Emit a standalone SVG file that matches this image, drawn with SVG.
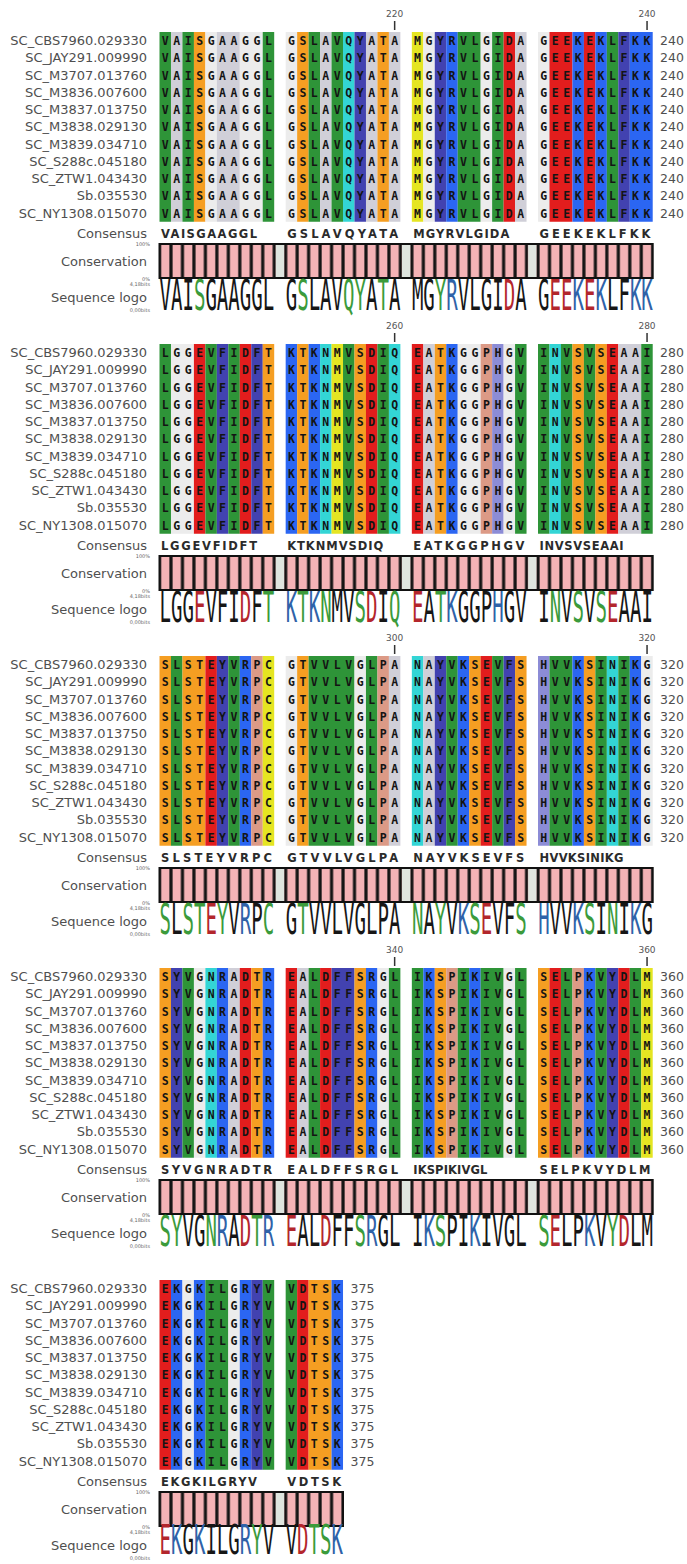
<svg xmlns="http://www.w3.org/2000/svg" width="687" height="1564" viewBox="0 0 687 1564">
<style>
.lbl{font-family:"DejaVu Sans",sans-serif;font-size:13px;fill:#4f4f4f;text-anchor:end}
.num{font-family:"DejaVu Sans",sans-serif;font-size:12.5px;fill:#4f4f4f}
.seq{font-family:"DejaVu Sans Mono",monospace;font-weight:bold;font-size:11.5px;letter-spacing:4.546px;fill:#141414}
.cons{font-family:"DejaVu Sans",sans-serif;font-weight:bold;font-size:11.5px;fill:#2b2b2b}
.tiny{font-family:"DejaVu Sans",sans-serif;font-size:5px;fill:#666;text-anchor:end}
.rul{font-family:"DejaVu Sans",sans-serif;font-size:9px;fill:#555;text-anchor:middle}
.tk{fill:#333}
.logo{font-family:"DejaVu Sans Mono",monospace;font-size:42px;fill:#161616}
.logo5{font-family:"DejaVu Sans Mono",monospace;font-size:40px;fill:#161616}
.P{fill:#3b9b3b}.B{fill:#2f62a8}.D{fill:#b3262c}
.hv{fill:#2e9438}.al{fill:#d0cfd8}.gl{fill:#ececec}.st{fill:#f59e22}.nq{fill:#33d5d5}.fy{fill:#4242b0}.mc{fill:#e5e522}.kr{fill:#2b66f2}.de{fill:#e21d1d}.hh{fill:#8c8cd6}.pp{fill:#dc9a86}
.box{fill:url(#cons);stroke:#111;stroke-width:2}
.gap{fill:#dfe5df}
</style>
<defs>
<pattern id="cons" patternUnits="userSpaceOnUse" x="159.5" y="0" width="11.47" height="2000">
<rect width="11.47" height="2000" fill="#141414"/>
<rect x="1.6" width="8.3" height="2000" fill="#f4b3b6"/>
</pattern>
</defs>

<g id="block1">
<text class="rul" x="394.6" y="17">220</text><rect class="tk" x="393.9" y="21" width="1.5" height="9"/>
<text class="rul" x="647" y="17">240</text><rect class="tk" x="646.3" y="21" width="1.5" height="9"/>
<g transform="translate(0,32) scale(1,189.75)">
<rect class="hv" x="159.5" width="11.5" height="1"/><rect class="al" x="170.97" width="11.5" height="1"/><rect class="hv" x="182.44" width="11.5" height="1"/><rect class="st" x="193.91" width="11.5" height="1"/><rect class="gl" x="205.38" width="11.5" height="1"/><rect class="al" x="216.85" width="22.97" height="1"/><rect class="gl" x="239.79" width="22.97" height="1"/><rect class="hv" x="262.73" width="11.47" height="1"/>
<rect class="gl" x="285.67" width="11.5" height="1"/><rect class="st" x="297.14" width="11.5" height="1"/><rect class="hv" x="308.61" width="11.5" height="1"/><rect class="al" x="320.08" width="11.5" height="1"/><rect class="hv" x="331.55" width="11.5" height="1"/><rect class="nq" x="343.02" width="11.5" height="1"/><rect class="fy" x="354.49" width="11.5" height="1"/><rect class="al" x="365.96" width="11.5" height="1"/><rect class="st" x="377.43" width="11.5" height="1"/><rect class="al" x="388.9" width="11.47" height="1"/>
<rect class="mc" x="411.84" width="11.5" height="1"/><rect class="gl" x="423.31" width="11.5" height="1"/><rect class="fy" x="434.78" width="11.5" height="1"/><rect class="kr" x="446.25" width="11.5" height="1"/><rect class="hv" x="457.72" width="22.97" height="1"/><rect class="gl" x="480.66" width="11.5" height="1"/><rect class="hv" x="492.13" width="11.5" height="1"/><rect class="de" x="503.6" width="11.5" height="1"/><rect class="al" x="515.07" width="11.47" height="1"/>
<rect class="gl" x="538.01" width="11.5" height="1"/><rect class="de" x="549.48" width="22.97" height="1"/><rect class="kr" x="572.42" width="11.5" height="1"/><rect class="de" x="583.89" width="11.5" height="1"/><rect class="kr" x="595.36" width="11.5" height="1"/><rect class="hv" x="606.83" width="11.5" height="1"/><rect class="fy" x="618.3" width="11.5" height="1"/><rect class="kr" x="629.77" width="22.94" height="1"/>
</g>
<text class="lbl" x="147" y="45">SC_CBS7960.029330</text>
<text class="lbl" x="147" y="62.25">SC_JAY291.009990</text>
<text class="lbl" x="147" y="79.5">SC_M3707.013760</text>
<text class="lbl" x="147" y="96.75">SC_M3836.007600</text>
<text class="lbl" x="147" y="114">SC_M3837.013750</text>
<text class="lbl" x="147" y="131.25">SC_M3838.029130</text>
<text class="lbl" x="147" y="148.5">SC_M3839.034710</text>
<text class="lbl" x="147" y="165.75">SC_S288c.045180</text>
<text class="lbl" x="147" y="183">SC_ZTW1.043430</text>
<text class="lbl" x="147" y="200.25">Sb.035530</text>
<text class="lbl" x="147" y="217.5">SC_NY1308.015070</text>
<text class="seq" x="161.77" y="45">VAISGAAGGL GSLAVQYATA MGYRVLGIDA GEEKEKLFKK</text>
<text class="seq" x="161.77" y="62.25">VAISGAAGGL GSLAVQYATA MGYRVLGIDA GEEKEKLFKK</text>
<text class="seq" x="161.77" y="79.5">VAISGAAGGL GSLAVQYATA MGYRVLGIDA GEEKEKLFKK</text>
<text class="seq" x="161.77" y="96.75">VAISGAAGGL GSLAVQYATA MGYRVLGIDA GEEKEKLFKK</text>
<text class="seq" x="161.77" y="114">VAISGAAGGL GSLAVQYATA MGYRVLGIDA GEEKEKLFKK</text>
<text class="seq" x="161.77" y="131.25">VAISGAAGGL GSLAVQYATA MGYRVLGIDA GEEKEKLFKK</text>
<text class="seq" x="161.77" y="148.5">VAISGAAGGL GSLAVQYATA MGYRVLGIDA GEEKEKLFKK</text>
<text class="seq" x="161.77" y="165.75">VAISGAAGGL GSLAVQYATA MGYRVLGIDA GEEKEKLFKK</text>
<text class="seq" x="161.77" y="183">VAISGAAGGL GSLAVQYATA MGYRVLGIDA GEEKEKLFKK</text>
<text class="seq" x="161.77" y="200.25">VAISGAAGGL GSLAVQYATA MGYRVLGIDA GEEKEKLFKK</text>
<text class="seq" x="161.77" y="217.5">VAISGAAGGL GSLAVQYATA MGYRVLGIDA GEEKEKLFKK</text>
<text class="num" x="660" y="45">240</text><text class="num" x="660" y="62.25">240</text><text class="num" x="660" y="79.5">240</text><text class="num" x="660" y="96.75">240</text><text class="num" x="660" y="114">240</text><text class="num" x="660" y="131.25">240</text><text class="num" x="660" y="148.5">240</text><text class="num" x="660" y="165.75">240</text><text class="num" x="660" y="183">240</text><text class="num" x="660" y="200.25">240</text><text class="num" x="660" y="217.5">240</text>
<text class="lbl" x="147" y="238">Consensus</text>
<text class="cons" x="161" y="238" textLength="96" lengthAdjust="spacing">VAISGAAGGL</text>
<text class="cons" x="287.2" y="238" textLength="111" lengthAdjust="spacing">GSLAVQYATA</text>
<text class="cons" x="413.3" y="238" textLength="96" lengthAdjust="spacing">MGYRVLGIDA</text>
<text class="cons" x="539.5" y="238" textLength="111" lengthAdjust="spacing">GEEKEKLFKK</text>
<text class="tiny" x="150" y="246">100%</text>
<text class="lbl" x="147" y="265.5">Conservation</text>
<rect class="box" x="159.5" y="244" width="493.2" height="34"/>
<rect class="gap" x="275.8" y="245" width="8.3" height="32"/><rect class="gap" x="401.97" y="245" width="8.3" height="32"/><rect class="gap" x="528.14" y="245" width="8.3" height="32"/>
<text class="tiny" x="150" y="281">0%</text>
<text class="tiny" x="150" y="285.5">4,18bits</text>
<text class="lbl" x="147" y="302">Sequence logo</text>
<text class="tiny" x="150" y="312">0,00bits</text>
<g transform="translate(159.5,310) scale(0.4537,1)"><text class="logo" x="0" y="0">VAI<tspan class="P">S</tspan>GAAGGL G<tspan class="P">S</tspan>LAV<tspan class="P">QY</tspan>A<tspan class="P">T</tspan>A MG<tspan class="P">Y</tspan><tspan class="B">R</tspan>VLGI<tspan class="D">D</tspan>A G<tspan class="D">EE</tspan><tspan class="B">K</tspan><tspan class="D">E</tspan><tspan class="B">K</tspan>LF<tspan class="B">KK</tspan></text></g>
</g>

<g id="block2" transform="translate(0,312)">
<text class="rul" x="394.6" y="17">260</text><rect class="tk" x="393.9" y="21" width="1.5" height="9"/>
<text class="rul" x="647" y="17">280</text><rect class="tk" x="646.3" y="21" width="1.5" height="9"/>
<g transform="translate(0,32) scale(1,189.75)">
<rect class="hv" x="159.5" width="11.5" height="1"/><rect class="gl" x="170.97" width="22.97" height="1"/><rect class="de" x="193.91" width="11.5" height="1"/><rect class="hv" x="205.38" width="11.5" height="1"/><rect class="fy" x="216.85" width="11.5" height="1"/><rect class="hv" x="228.32" width="11.5" height="1"/><rect class="de" x="239.79" width="11.5" height="1"/><rect class="fy" x="251.26" width="11.5" height="1"/><rect class="st" x="262.73" width="11.47" height="1"/>
<rect class="kr" x="285.67" width="11.5" height="1"/><rect class="st" x="297.14" width="11.5" height="1"/><rect class="kr" x="308.61" width="11.5" height="1"/><rect class="nq" x="320.08" width="11.5" height="1"/><rect class="mc" x="331.55" width="11.5" height="1"/><rect class="hv" x="343.02" width="11.5" height="1"/><rect class="st" x="354.49" width="11.5" height="1"/><rect class="de" x="365.96" width="11.5" height="1"/><rect class="hv" x="377.43" width="11.5" height="1"/><rect class="nq" x="388.9" width="11.47" height="1"/>
<rect class="de" x="411.84" width="11.5" height="1"/><rect class="al" x="423.31" width="11.5" height="1"/><rect class="st" x="434.78" width="11.5" height="1"/><rect class="kr" x="446.25" width="11.5" height="1"/><rect class="gl" x="457.72" width="22.97" height="1"/><rect class="pp" x="480.66" width="11.5" height="1"/><rect class="hh" x="492.13" width="11.5" height="1"/><rect class="gl" x="503.6" width="11.5" height="1"/><rect class="hv" x="515.07" width="11.47" height="1"/>
<rect class="hv" x="538.01" width="11.5" height="1"/><rect class="nq" x="549.48" width="11.5" height="1"/><rect class="hv" x="560.95" width="11.5" height="1"/><rect class="st" x="572.42" width="11.5" height="1"/><rect class="hv" x="583.89" width="11.5" height="1"/><rect class="st" x="595.36" width="11.5" height="1"/><rect class="de" x="606.83" width="11.5" height="1"/><rect class="al" x="618.3" width="22.97" height="1"/><rect class="hv" x="641.24" width="11.47" height="1"/>
</g>
<text class="lbl" x="147" y="45">SC_CBS7960.029330</text>
<text class="lbl" x="147" y="62.25">SC_JAY291.009990</text>
<text class="lbl" x="147" y="79.5">SC_M3707.013760</text>
<text class="lbl" x="147" y="96.75">SC_M3836.007600</text>
<text class="lbl" x="147" y="114">SC_M3837.013750</text>
<text class="lbl" x="147" y="131.25">SC_M3838.029130</text>
<text class="lbl" x="147" y="148.5">SC_M3839.034710</text>
<text class="lbl" x="147" y="165.75">SC_S288c.045180</text>
<text class="lbl" x="147" y="183">SC_ZTW1.043430</text>
<text class="lbl" x="147" y="200.25">Sb.035530</text>
<text class="lbl" x="147" y="217.5">SC_NY1308.015070</text>
<text class="seq" x="161.77" y="45">LGGEVFIDFT KTKNMVSDIQ EATKGGPHGV INVSVSEAAI</text>
<text class="seq" x="161.77" y="62.25">LGGEVFIDFT KTKNMVSDIQ EATKGGPHGV INVSVSEAAI</text>
<text class="seq" x="161.77" y="79.5">LGGEVFIDFT KTKNMVSDIQ EATKGGPHGV INVSVSEAAI</text>
<text class="seq" x="161.77" y="96.75">LGGEVFIDFT KTKNMVSDIQ EATKGGPHGV INVSVSEAAI</text>
<text class="seq" x="161.77" y="114">LGGEVFIDFT KTKNMVSDIQ EATKGGPHGV INVSVSEAAI</text>
<text class="seq" x="161.77" y="131.25">LGGEVFIDFT KTKNMVSDIQ EATKGGPHGV INVSVSEAAI</text>
<text class="seq" x="161.77" y="148.5">LGGEVFIDFT KTKNMVSDIQ EATKGGPHGV INVSVSEAAI</text>
<text class="seq" x="161.77" y="165.75">LGGEVFIDFT KTKNMVSDIQ EATKGGPHGV INVSVSEAAI</text>
<text class="seq" x="161.77" y="183">LGGEVFIDFT KTKNMVSDIQ EATKGGPHGV INVSVSEAAI</text>
<text class="seq" x="161.77" y="200.25">LGGEVFIDFT KTKNMVSDIQ EATKGGPHGV INVSVSEAAI</text>
<text class="seq" x="161.77" y="217.5">LGGEVFIDFT KTKNMVSDIQ EATKGGPHGV INVSVSEAAI</text>
<text class="num" x="660" y="45">280</text><text class="num" x="660" y="62.25">280</text><text class="num" x="660" y="79.5">280</text><text class="num" x="660" y="96.75">280</text><text class="num" x="660" y="114">280</text><text class="num" x="660" y="131.25">280</text><text class="num" x="660" y="148.5">280</text><text class="num" x="660" y="165.75">280</text><text class="num" x="660" y="183">280</text><text class="num" x="660" y="200.25">280</text><text class="num" x="660" y="217.5">280</text>
<text class="lbl" x="147" y="238">Consensus</text>
<text class="cons" x="161" y="238" textLength="96" lengthAdjust="spacing">LGGEVFIDFT</text>
<text class="cons" x="287.2" y="238" textLength="96" lengthAdjust="spacing">KTKNMVSDIQ</text>
<text class="cons" x="413.3" y="238" textLength="111" lengthAdjust="spacing">EATKGGPHGV</text>
<text class="cons" x="539.5" y="238" textLength="84" lengthAdjust="spacing">INVSVSEAAI</text>
<text class="tiny" x="150" y="246">100%</text>
<text class="lbl" x="147" y="265.5">Conservation</text>
<rect class="box" x="159.5" y="244" width="493.2" height="34"/>
<rect class="gap" x="275.8" y="245" width="8.3" height="32"/><rect class="gap" x="401.97" y="245" width="8.3" height="32"/><rect class="gap" x="528.14" y="245" width="8.3" height="32"/>
<text class="tiny" x="150" y="281">0%</text>
<text class="tiny" x="150" y="285.5">4,18bits</text>
<text class="lbl" x="147" y="302">Sequence logo</text>
<text class="tiny" x="150" y="312">0,00bits</text>
<g transform="translate(159.5,310) scale(0.4537,1)"><text class="logo" x="0" y="0">LGG<tspan class="D">E</tspan>VFI<tspan class="D">D</tspan>F<tspan class="P">T</tspan> <tspan class="B">K</tspan><tspan class="P">T</tspan><tspan class="B">K</tspan><tspan class="P">N</tspan>MV<tspan class="P">S</tspan><tspan class="D">D</tspan>I<tspan class="P">Q</tspan> <tspan class="D">E</tspan>A<tspan class="P">T</tspan><tspan class="B">K</tspan>GGP<tspan class="B">H</tspan>GV I<tspan class="P">N</tspan>V<tspan class="P">S</tspan>V<tspan class="P">S</tspan><tspan class="D">E</tspan>AAI</text></g>
</g>

<g id="block3" transform="translate(0,624)">
<text class="rul" x="394.6" y="17">300</text><rect class="tk" x="393.9" y="21" width="1.5" height="9"/>
<text class="rul" x="647" y="17">320</text><rect class="tk" x="646.3" y="21" width="1.5" height="9"/>
<g transform="translate(0,32) scale(1,189.75)">
<rect class="st" x="159.5" width="11.5" height="1"/><rect class="hv" x="170.97" width="11.5" height="1"/><rect class="st" x="182.44" width="22.97" height="1"/><rect class="de" x="205.38" width="11.5" height="1"/><rect class="fy" x="216.85" width="11.5" height="1"/><rect class="hv" x="228.32" width="11.5" height="1"/><rect class="kr" x="239.79" width="11.5" height="1"/><rect class="pp" x="251.26" width="11.5" height="1"/><rect class="mc" x="262.73" width="11.47" height="1"/>
<rect class="gl" x="285.67" width="11.5" height="1"/><rect class="st" x="297.14" width="11.5" height="1"/><rect class="hv" x="308.61" width="45.91" height="1"/><rect class="gl" x="354.49" width="11.5" height="1"/><rect class="hv" x="365.96" width="11.5" height="1"/><rect class="pp" x="377.43" width="11.5" height="1"/><rect class="al" x="388.9" width="11.47" height="1"/>
<rect class="nq" x="411.84" width="11.5" height="1"/><rect class="al" x="423.31" width="11.5" height="1"/><rect class="fy" x="434.78" width="11.5" height="1"/><rect class="hv" x="446.25" width="11.5" height="1"/><rect class="kr" x="457.72" width="11.5" height="1"/><rect class="st" x="469.19" width="11.5" height="1"/><rect class="de" x="480.66" width="11.5" height="1"/><rect class="hv" x="492.13" width="11.5" height="1"/><rect class="fy" x="503.6" width="11.5" height="1"/><rect class="st" x="515.07" width="11.47" height="1"/>
<rect class="hh" x="538.01" width="11.5" height="1"/><rect class="hv" x="549.48" width="22.97" height="1"/><rect class="kr" x="572.42" width="11.5" height="1"/><rect class="st" x="583.89" width="11.5" height="1"/><rect class="hv" x="595.36" width="11.5" height="1"/><rect class="nq" x="606.83" width="11.5" height="1"/><rect class="hv" x="618.3" width="11.5" height="1"/><rect class="kr" x="629.77" width="11.5" height="1"/><rect class="gl" x="641.24" width="11.47" height="1"/>
</g>
<text class="lbl" x="147" y="45">SC_CBS7960.029330</text>
<text class="lbl" x="147" y="62.25">SC_JAY291.009990</text>
<text class="lbl" x="147" y="79.5">SC_M3707.013760</text>
<text class="lbl" x="147" y="96.75">SC_M3836.007600</text>
<text class="lbl" x="147" y="114">SC_M3837.013750</text>
<text class="lbl" x="147" y="131.25">SC_M3838.029130</text>
<text class="lbl" x="147" y="148.5">SC_M3839.034710</text>
<text class="lbl" x="147" y="165.75">SC_S288c.045180</text>
<text class="lbl" x="147" y="183">SC_ZTW1.043430</text>
<text class="lbl" x="147" y="200.25">Sb.035530</text>
<text class="lbl" x="147" y="217.5">SC_NY1308.015070</text>
<text class="seq" x="161.77" y="45">SLSTEYVRPC GTVVLVGLPA NAYVKSEVFS HVVKSINIKG</text>
<text class="seq" x="161.77" y="62.25">SLSTEYVRPC GTVVLVGLPA NAYVKSEVFS HVVKSINIKG</text>
<text class="seq" x="161.77" y="79.5">SLSTEYVRPC GTVVLVGLPA NAYVKSEVFS HVVKSINIKG</text>
<text class="seq" x="161.77" y="96.75">SLSTEYVRPC GTVVLVGLPA NAYVKSEVFS HVVKSINIKG</text>
<text class="seq" x="161.77" y="114">SLSTEYVRPC GTVVLVGLPA NAYVKSEVFS HVVKSINIKG</text>
<text class="seq" x="161.77" y="131.25">SLSTEYVRPC GTVVLVGLPA NAYVKSEVFS HVVKSINIKG</text>
<text class="seq" x="161.77" y="148.5">SLSTEYVRPC GTVVLVGLPA NAYVKSEVFS HVVKSINIKG</text>
<text class="seq" x="161.77" y="165.75">SLSTEYVRPC GTVVLVGLPA NAYVKSEVFS HVVKSINIKG</text>
<text class="seq" x="161.77" y="183">SLSTEYVRPC GTVVLVGLPA NAYVKSEVFS HVVKSINIKG</text>
<text class="seq" x="161.77" y="200.25">SLSTEYVRPC GTVVLVGLPA NAYVKSEVFS HVVKSINIKG</text>
<text class="seq" x="161.77" y="217.5">SLSTEYVRPC GTVVLVGLPA NAYVKSEVFS HVVKSINIKG</text>
<text class="num" x="660" y="45">320</text><text class="num" x="660" y="62.25">320</text><text class="num" x="660" y="79.5">320</text><text class="num" x="660" y="96.75">320</text><text class="num" x="660" y="114">320</text><text class="num" x="660" y="131.25">320</text><text class="num" x="660" y="148.5">320</text><text class="num" x="660" y="165.75">320</text><text class="num" x="660" y="183">320</text><text class="num" x="660" y="200.25">320</text><text class="num" x="660" y="217.5">320</text>
<text class="lbl" x="147" y="238">Consensus</text>
<text class="cons" x="161" y="238" textLength="111" lengthAdjust="spacing">SLSTEYVRPC</text>
<text class="cons" x="287.2" y="238" textLength="111" lengthAdjust="spacing">GTVVLVGLPA</text>
<text class="cons" x="413.3" y="238" textLength="111" lengthAdjust="spacing">NAYVKSEVFS</text>
<text class="cons" x="539.5" y="238" textLength="84" lengthAdjust="spacing">HVVKSINIKG</text>
<text class="tiny" x="150" y="246">100%</text>
<text class="lbl" x="147" y="265.5">Conservation</text>
<rect class="box" x="159.5" y="244" width="493.2" height="34"/>
<rect class="gap" x="275.8" y="245" width="8.3" height="32"/><rect class="gap" x="401.97" y="245" width="8.3" height="32"/><rect class="gap" x="528.14" y="245" width="8.3" height="32"/>
<text class="tiny" x="150" y="281">0%</text>
<text class="tiny" x="150" y="285.5">4,18bits</text>
<text class="lbl" x="147" y="302">Sequence logo</text>
<text class="tiny" x="150" y="312">0,00bits</text>
<g transform="translate(159.5,310) scale(0.4537,1)"><text class="logo" x="0" y="0"><tspan class="P">S</tspan>L<tspan class="P">ST</tspan><tspan class="D">E</tspan><tspan class="P">Y</tspan>V<tspan class="B">R</tspan>P<tspan class="P">C</tspan> G<tspan class="P">T</tspan>VVLVGLPA <tspan class="P">N</tspan>A<tspan class="P">Y</tspan>V<tspan class="B">K</tspan><tspan class="P">S</tspan><tspan class="D">E</tspan>VF<tspan class="P">S</tspan> <tspan class="B">H</tspan>VV<tspan class="B">K</tspan><tspan class="P">S</tspan>I<tspan class="P">N</tspan>I<tspan class="B">K</tspan>G</text></g>
</g>

<g id="block4" transform="translate(0,936)">
<text class="rul" x="394.6" y="17">340</text><rect class="tk" x="393.9" y="21" width="1.5" height="9"/>
<text class="rul" x="647" y="17">360</text><rect class="tk" x="646.3" y="21" width="1.5" height="9"/>
<g transform="translate(0,32) scale(1,189.75)">
<rect class="st" x="159.5" width="11.5" height="1"/><rect class="fy" x="170.97" width="11.5" height="1"/><rect class="hv" x="182.44" width="11.5" height="1"/><rect class="gl" x="193.91" width="11.5" height="1"/><rect class="nq" x="205.38" width="11.5" height="1"/><rect class="kr" x="216.85" width="11.5" height="1"/><rect class="al" x="228.32" width="11.5" height="1"/><rect class="de" x="239.79" width="11.5" height="1"/><rect class="st" x="251.26" width="11.5" height="1"/><rect class="kr" x="262.73" width="11.47" height="1"/>
<rect class="de" x="285.67" width="11.5" height="1"/><rect class="al" x="297.14" width="11.5" height="1"/><rect class="hv" x="308.61" width="11.5" height="1"/><rect class="de" x="320.08" width="11.5" height="1"/><rect class="fy" x="331.55" width="22.97" height="1"/><rect class="st" x="354.49" width="11.5" height="1"/><rect class="kr" x="365.96" width="11.5" height="1"/><rect class="gl" x="377.43" width="11.5" height="1"/><rect class="hv" x="388.9" width="11.47" height="1"/>
<rect class="hv" x="411.84" width="11.5" height="1"/><rect class="kr" x="423.31" width="11.5" height="1"/><rect class="st" x="434.78" width="11.5" height="1"/><rect class="pp" x="446.25" width="11.5" height="1"/><rect class="hv" x="457.72" width="11.5" height="1"/><rect class="kr" x="469.19" width="11.5" height="1"/><rect class="hv" x="480.66" width="22.97" height="1"/><rect class="gl" x="503.6" width="11.5" height="1"/><rect class="hv" x="515.07" width="11.47" height="1"/>
<rect class="st" x="538.01" width="11.5" height="1"/><rect class="de" x="549.48" width="11.5" height="1"/><rect class="hv" x="560.95" width="11.5" height="1"/><rect class="pp" x="572.42" width="11.5" height="1"/><rect class="kr" x="583.89" width="11.5" height="1"/><rect class="hv" x="595.36" width="11.5" height="1"/><rect class="fy" x="606.83" width="11.5" height="1"/><rect class="de" x="618.3" width="11.5" height="1"/><rect class="hv" x="629.77" width="11.5" height="1"/><rect class="mc" x="641.24" width="11.47" height="1"/>
</g>
<text class="lbl" x="147" y="45">SC_CBS7960.029330</text>
<text class="lbl" x="147" y="62.25">SC_JAY291.009990</text>
<text class="lbl" x="147" y="79.5">SC_M3707.013760</text>
<text class="lbl" x="147" y="96.75">SC_M3836.007600</text>
<text class="lbl" x="147" y="114">SC_M3837.013750</text>
<text class="lbl" x="147" y="131.25">SC_M3838.029130</text>
<text class="lbl" x="147" y="148.5">SC_M3839.034710</text>
<text class="lbl" x="147" y="165.75">SC_S288c.045180</text>
<text class="lbl" x="147" y="183">SC_ZTW1.043430</text>
<text class="lbl" x="147" y="200.25">Sb.035530</text>
<text class="lbl" x="147" y="217.5">SC_NY1308.015070</text>
<text class="seq" x="161.77" y="45">SYVGNRADTR EALDFFSRGL IKSPIKIVGL SELPKVYDLM</text>
<text class="seq" x="161.77" y="62.25">SYVGNRADTR EALDFFSRGL IKSPIKIVGL SELPKVYDLM</text>
<text class="seq" x="161.77" y="79.5">SYVGNRADTR EALDFFSRGL IKSPIKIVGL SELPKVYDLM</text>
<text class="seq" x="161.77" y="96.75">SYVGNRADTR EALDFFSRGL IKSPIKIVGL SELPKVYDLM</text>
<text class="seq" x="161.77" y="114">SYVGNRADTR EALDFFSRGL IKSPIKIVGL SELPKVYDLM</text>
<text class="seq" x="161.77" y="131.25">SYVGNRADTR EALDFFSRGL IKSPIKIVGL SELPKVYDLM</text>
<text class="seq" x="161.77" y="148.5">SYVGNRADTR EALDFFSRGL IKSPIKIVGL SELPKVYDLM</text>
<text class="seq" x="161.77" y="165.75">SYVGNRADTR EALDFFSRGL IKSPIKIVGL SELPKVYDLM</text>
<text class="seq" x="161.77" y="183">SYVGNRADTR EALDFFSRGL IKSPIKIVGL SELPKVYDLM</text>
<text class="seq" x="161.77" y="200.25">SYVGNRADTR EALDFFSRGL IKSPIKIVGL SELPKVYDLM</text>
<text class="seq" x="161.77" y="217.5">SYVGNRADTR EALDFFSRGL IKSPIKIVGL SELPKVYDLM</text>
<text class="num" x="660" y="45">360</text><text class="num" x="660" y="62.25">360</text><text class="num" x="660" y="79.5">360</text><text class="num" x="660" y="96.75">360</text><text class="num" x="660" y="114">360</text><text class="num" x="660" y="131.25">360</text><text class="num" x="660" y="148.5">360</text><text class="num" x="660" y="165.75">360</text><text class="num" x="660" y="183">360</text><text class="num" x="660" y="200.25">360</text><text class="num" x="660" y="217.5">360</text>
<text class="lbl" x="147" y="238">Consensus</text>
<text class="cons" x="161" y="238" textLength="111" lengthAdjust="spacing">SYVGNRADTR</text>
<text class="cons" x="287.2" y="238" textLength="111" lengthAdjust="spacing">EALDFFSRGL</text>
<text class="cons" x="413.3" y="238" textLength="74" lengthAdjust="spacing">IKSPIKIVGL</text>
<text class="cons" x="539.5" y="238" textLength="111" lengthAdjust="spacing">SELPKVYDLM</text>
<text class="tiny" x="150" y="246">100%</text>
<text class="lbl" x="147" y="265.5">Conservation</text>
<rect class="box" x="159.5" y="244" width="493.2" height="34"/>
<rect class="gap" x="275.8" y="245" width="8.3" height="32"/><rect class="gap" x="401.97" y="245" width="8.3" height="32"/><rect class="gap" x="528.14" y="245" width="8.3" height="32"/>
<text class="tiny" x="150" y="281">0%</text>
<text class="tiny" x="150" y="285.5">4,18bits</text>
<text class="lbl" x="147" y="302">Sequence logo</text>
<text class="tiny" x="150" y="312">0,00bits</text>
<g transform="translate(159.5,310) scale(0.4537,1)"><text class="logo" x="0" y="0"><tspan class="P">SY</tspan>VG<tspan class="P">N</tspan><tspan class="B">R</tspan>A<tspan class="D">D</tspan><tspan class="P">T</tspan><tspan class="B">R</tspan> <tspan class="D">E</tspan>AL<tspan class="D">D</tspan>FF<tspan class="P">S</tspan><tspan class="B">R</tspan>GL I<tspan class="B">K</tspan><tspan class="P">S</tspan>PI<tspan class="B">K</tspan>IVGL <tspan class="P">S</tspan><tspan class="D">E</tspan>LP<tspan class="B">K</tspan>V<tspan class="P">Y</tspan><tspan class="D">D</tspan>LM</text></g>
</g>

<g id="block5" transform="translate(0,1248)">
<g transform="translate(0,32) scale(1,189.75)">
<rect class="de" x="159.5" width="11.5" height="1"/><rect class="kr" x="170.97" width="11.5" height="1"/><rect class="gl" x="182.44" width="11.5" height="1"/><rect class="kr" x="193.91" width="11.5" height="1"/><rect class="hv" x="205.38" width="22.97" height="1"/><rect class="gl" x="228.32" width="11.5" height="1"/><rect class="kr" x="239.79" width="11.5" height="1"/><rect class="fy" x="251.26" width="11.5" height="1"/><rect class="hv" x="262.73" width="11.47" height="1"/>
<rect class="hv" x="285.67" width="11.5" height="1"/><rect class="de" x="297.14" width="11.5" height="1"/><rect class="st" x="308.61" width="22.97" height="1"/><rect class="kr" x="331.55" width="11.47" height="1"/>
</g>
<text class="lbl" x="147" y="45">SC_CBS7960.029330</text>
<text class="lbl" x="147" y="62.25">SC_JAY291.009990</text>
<text class="lbl" x="147" y="79.5">SC_M3707.013760</text>
<text class="lbl" x="147" y="96.75">SC_M3836.007600</text>
<text class="lbl" x="147" y="114">SC_M3837.013750</text>
<text class="lbl" x="147" y="131.25">SC_M3838.029130</text>
<text class="lbl" x="147" y="148.5">SC_M3839.034710</text>
<text class="lbl" x="147" y="165.75">SC_S288c.045180</text>
<text class="lbl" x="147" y="183">SC_ZTW1.043430</text>
<text class="lbl" x="147" y="200.25">Sb.035530</text>
<text class="lbl" x="147" y="217.5">SC_NY1308.015070</text>
<text class="seq" x="161.77" y="45">EKGKILGRYV VDTSK</text>
<text class="seq" x="161.77" y="62.25">EKGKILGRYV VDTSK</text>
<text class="seq" x="161.77" y="79.5">EKGKILGRYV VDTSK</text>
<text class="seq" x="161.77" y="96.75">EKGKILGRYV VDTSK</text>
<text class="seq" x="161.77" y="114">EKGKILGRYV VDTSK</text>
<text class="seq" x="161.77" y="131.25">EKGKILGRYV VDTSK</text>
<text class="seq" x="161.77" y="148.5">EKGKILGRYV VDTSK</text>
<text class="seq" x="161.77" y="165.75">EKGKILGRYV VDTSK</text>
<text class="seq" x="161.77" y="183">EKGKILGRYV VDTSK</text>
<text class="seq" x="161.77" y="200.25">EKGKILGRYV VDTSK</text>
<text class="seq" x="161.77" y="217.5">EKGKILGRYV VDTSK</text>
<text class="num" x="350.5" y="45">375</text><text class="num" x="350.5" y="62.25">375</text><text class="num" x="350.5" y="79.5">375</text><text class="num" x="350.5" y="96.75">375</text><text class="num" x="350.5" y="114">375</text><text class="num" x="350.5" y="131.25">375</text><text class="num" x="350.5" y="148.5">375</text><text class="num" x="350.5" y="165.75">375</text><text class="num" x="350.5" y="183">375</text><text class="num" x="350.5" y="200.25">375</text><text class="num" x="350.5" y="217.5">375</text>
<text class="lbl" x="147" y="238">Consensus</text>
<text class="cons" x="161" y="238" textLength="96" lengthAdjust="spacing">EKGKILGRYV</text>
<text class="cons" x="287.2" y="238" textLength="54" lengthAdjust="spacing">VDTSK</text>
<text class="tiny" x="150" y="246">100%</text>
<text class="lbl" x="147" y="265.5">Conservation</text>
<rect class="box" x="159.5" y="244" width="183.5" height="34"/>
<rect class="gap" x="275.8" y="245" width="8.3" height="32"/>
<text class="tiny" x="150" y="281">0%</text>
<text class="tiny" x="150" y="285.5">4,18bits</text>
<text class="lbl" x="147" y="302">Sequence logo</text>
<text class="tiny" x="150" y="312">0,00bits</text>
<g transform="translate(159.5,306) scale(0.4763,1)"><text class="logo5" x="0" y="0"><tspan class="D">E</tspan><tspan class="B">K</tspan>G<tspan class="B">K</tspan>ILG<tspan class="B">R</tspan><tspan class="P">Y</tspan>V V<tspan class="D">D</tspan><tspan class="P">TS</tspan><tspan class="B">K</tspan></text></g>
</g>
</svg>
